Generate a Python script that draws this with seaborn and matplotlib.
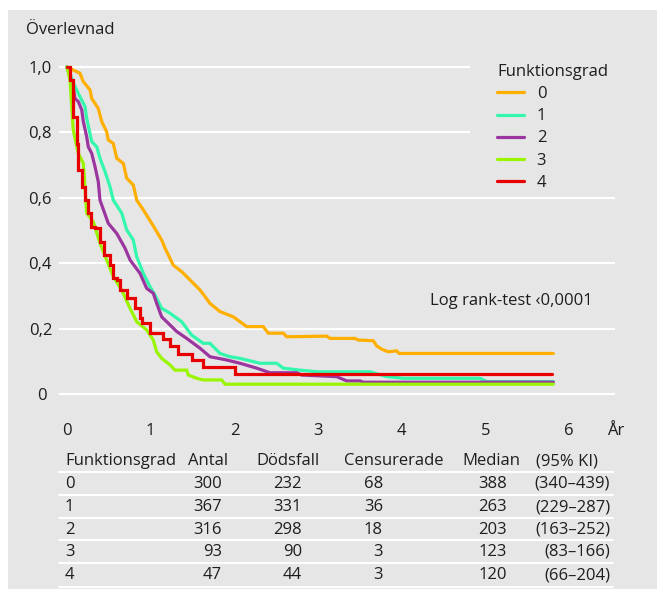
import numpy as np
import pandas as pd
import matplotlib
matplotlib.use("Agg")
import matplotlib.pyplot as plt
import seaborn as sns
from matplotlib.patches import Rectangle

# ---------------- data ----------------
grades = ["0", "1", "2", "3", "4"]
colors = ["#ffaf00", "#33f7ac", "#9b359f", "#99f500", "#e80000"]

t0 = [0, 0.155, 0.195, 0.275, 0.295, 0.374, 0.415, 0.474, 0.493, 0.553, 0.594, 0.673, 0.713, 0.792,
      0.833, 0.912, 1.012, 1.131, 1.171, 1.270, 1.370, 1.449, 1.589, 1.649, 1.708, 1.828, 1.987,
      2.147, 2.345, 2.405, 2.584, 2.625, 3.103, 3.142, 3.441, 3.480, 3.659, 3.700, 3.760, 3.839,
      3.939, 3.967, 5.810]
s0 = [1.0, 0.981, 0.955, 0.930, 0.904, 0.873, 0.833, 0.802, 0.777, 0.766, 0.721, 0.705, 0.660, 0.639,
      0.593, 0.563, 0.522, 0.471, 0.446, 0.394, 0.374, 0.354, 0.318, 0.298, 0.277, 0.252, 0.236,
      0.206, 0.206, 0.186, 0.186, 0.175, 0.177, 0.170, 0.170, 0.165, 0.163, 0.147, 0.137, 0.129,
      0.132, 0.124, 0.124]

t1 = [0, 0.016, 0.056, 0.096, 0.155, 0.215, 0.235, 0.295, 0.355, 0.394, 0.454, 0.514, 0.553, 0.654,
      0.713, 0.792, 0.833, 0.912, 0.992, 1.051, 1.131, 1.231, 1.370, 1.490, 1.628, 1.708, 1.828,
      1.947, 2.067, 2.306, 2.505, 2.584, 2.784, 2.983, 3.620, 3.820, 4.018, 4.934, 5.014, 5.810]
s1 = [1.0, 0.991, 0.965, 0.940, 0.909, 0.879, 0.843, 0.772, 0.756, 0.721, 0.680, 0.634, 0.593, 0.553,
      0.502, 0.471, 0.420, 0.369, 0.328, 0.303, 0.262, 0.247, 0.221, 0.180, 0.155, 0.155, 0.124,
      0.114, 0.109, 0.094, 0.094, 0.079, 0.073, 0.068, 0.068, 0.053, 0.048, 0.048, 0.038, 0.038]

t2 = [0, 0.036, 0.075, 0.096, 0.135, 0.176, 0.195, 0.235, 0.254, 0.295, 0.335, 0.374, 0.394, 0.493,
      0.594, 0.693, 0.753, 0.872, 0.952, 1.031, 1.072, 1.131, 1.231, 1.311, 1.430, 1.589, 1.708,
      1.908, 2.067, 2.266, 2.425, 2.744, 2.804, 3.222, 3.342, 3.501, 3.540, 5.810]
s2 = [1.0, 0.970, 0.935, 0.904, 0.894, 0.869, 0.833, 0.787, 0.756, 0.736, 0.695, 0.649, 0.593, 0.522,
      0.491, 0.446, 0.410, 0.369, 0.323, 0.308, 0.277, 0.236, 0.211, 0.191, 0.170, 0.140, 0.114,
      0.104, 0.094, 0.079, 0.065, 0.065, 0.058, 0.053, 0.040, 0.040, 0.036, 0.036]

t3 = [0, 0.036, 0.075, 0.135, 0.195, 0.215, 0.235, 0.314, 0.394, 0.474, 0.553, 0.654, 0.753, 0.833,
      0.952, 1.031, 1.072, 1.131, 1.231, 1.290, 1.430, 1.449, 1.550, 1.628, 1.848, 1.888, 5.810]
s3 = [1.0, 0.960, 0.807, 0.736, 0.705, 0.634, 0.553, 0.527, 0.461, 0.410, 0.359, 0.318, 0.262, 0.221,
      0.196, 0.165, 0.129, 0.109, 0.089, 0.073, 0.073, 0.058, 0.048, 0.043, 0.043, 0.030, 0.030]

t4 = [0, 0.036, 0.075, 0.116, 0.135, 0.176, 0.215, 0.254, 0.287, 0.335, 0.394, 0.446, 0.514, 0.553,
      0.594, 0.633, 0.713, 0.812, 0.872, 0.892, 0.992, 1.151, 1.231, 1.330, 1.490, 1.628, 2.007, 5.790]
s4 = [1.0, 0.960, 0.848, 0.766, 0.685, 0.634, 0.593, 0.553, 0.512, 0.507, 0.466, 0.425, 0.394, 0.354,
      0.349, 0.318, 0.293, 0.262, 0.232, 0.216, 0.187, 0.167, 0.147, 0.122, 0.104, 0.083, 0.061, 0.061]

curves_t = [t0, t1, t2, t3, t4]
curves_s = [s0, s1, s2, s3, s4]
step_style = [False, False, False, False, True]

y_ticks = [0, 0.2, 0.4, 0.6, 0.8, 1.0]
y_ticklabels = ["0 ", "0,2", "0,4", "0,6", "0,8", "1,0"]
x_ticks = [0, 1, 2, 3, 4, 5, 6]
x_ticklabels = ["0", "1", "2", "3", "4", "5", "6"]

# table
tab_header = ["Funktionsgrad", "Antal", "Dödsfall", "Censurerade", "Median", "(95% KI)"]
tab_grade = ["0", "1", "2", "3", "4"]
tab_antal = [300, 367, 316, 93, 47]
tab_dod = [232, 331, 298, 90, 44]
tab_cens = [68, 36, 18, 3, 3]
tab_median = [388, 263, 203, 123, 120]
tab_ci = ["(340–439)", "(229–287)", "(163–252)", "(83–166)", "(66–204)"]

# ---------------- style ----------------
sns.set_style("white")
plt.rcParams["font.family"] = ["Open Sans", "DejaVu Sans"]
FS = 12
plt.rcParams["font.size"] = FS
TXT = "#1e1e1e"
BG = "#e6e6e6"

W, H = 657, 591
fig = plt.figure(figsize=(W / 100, H / 100), dpi=100)
fig.patch.set_facecolor("white")

def fx(px):
    return px / W

def fy(py):
    return 1 - py / H

fig.patches.append(Rectangle((fx(8), fy(589)), fx(657) - fx(8), fy(10) - fy(589),
                             transform=fig.transFigure, facecolor=BG, edgecolor="none", zorder=-10))

ax_l, ax_r, ax_t, ax_b = 59, 615, 60, 405
ax = fig.add_axes([fx(ax_l), fy(ax_b), fx(ax_r) - fx(ax_l), fy(ax_t) - fy(ax_b)])
ax.set_facecolor("none")
x_per_px = 1 / 83.7
y_per_px = 1 / 327.0
ax.set_xlim((ax_l - 67) * x_per_px, (ax_r - 67) * x_per_px)
ax.set_ylim((394 - ax_b) * y_per_px, (394 - ax_t) * y_per_px)
for sp in ax.spines.values():
    sp.set_visible(False)

# grid lines (top two shortened for legend)
short_x = (470 - 67) * x_per_px
full_x = (ax_r - 67) * x_per_px
x0 = (ax_l - 67) * x_per_px
for yv in y_ticks:
    xe = short_x if yv >= 0.8 else full_x
    ax.plot([x0, xe], [yv, yv], color="white", lw=1.6, zorder=0, solid_capstyle="butt")

for g, tt, ss, col, st in zip(grades, curves_t, curves_s, colors, step_style):
    df = pd.DataFrame({"t": tt, "s": ss})
    kw = dict(drawstyle="steps-post") if st else {}
    sns.lineplot(data=df, x="t", y="s", ax=ax, color=col, lw=2.3, label=g,
                 estimator=None, sort=False, legend=False, solid_joinstyle="miter", **kw)

ax.set_xlabel("")
ax.set_ylabel("")
ax.set_xticks(x_ticks)
ax.set_xticklabels(x_ticklabels)
ax.set_yticks(y_ticks)
ax.set_yticklabels(y_ticklabels)
ax.tick_params(axis="x", direction="out", length=5.8, width=0.9, color="#333333",
               pad=7, labelsize=FS, labelcolor=TXT)
ax.tick_params(axis="y", length=0, pad=5, labelsize=FS, labelcolor=TXT)

handles = ax.get_lines()[len(y_ticks):]
leg = ax.legend(handles=handles, labels=grades, title="Funktionsgrad", loc="upper left",
                bbox_to_anchor=(fx(497), fy(64)), bbox_transform=fig.transFigure,
                frameon=False, borderpad=0, borderaxespad=0, handlelength=1.6,
                handletextpad=0.78, labelspacing=0.37, fontsize=FS, title_fontsize=FS,
                alignment="left")
for txt in leg.get_texts():
    txt.set_color(TXT)
leg.get_title().set_color(TXT)

fig.text(fx(26), fy(30), "Överlevnad", ha="left", va="center", color=TXT, fontsize=FS)
fig.text(fx(607), fy(431), "År", ha="left", va="center", color=TXT, fontsize=FS)
fig.text(fx(430), fy(301), "Log rank-test ‹0,0001", ha="left", va="center", color=TXT, fontsize=FS)

# table
row_y = [461, 484, 507, 530, 552, 575]
line_y = [472, 494.5, 517.5, 540, 563, 586.5]
for ly in line_y:
    fig.add_artist(plt.Line2D([fx(59), fx(613)], [fy(ly), fy(ly)], color="white", lw=1.5,
                              transform=fig.transFigure))

hdr_x = [(65, "left"), (188, "left"), (256, "left"), (344, "left"), (462, "left"), (598, "right")]
for (x, ha), h in zip(hdr_x, tab_header):
    fig.text(fx(x), fy(row_y[0]), h, ha=ha, va="center", color=TXT, fontsize=FS)

for i in range(len(tab_grade)):
    yy = fy(row_y[i + 1])
    fig.text(fx(65), yy, tab_grade[i], ha="left", va="center", color=TXT, fontsize=FS)
    fig.text(fx(222), yy, str(tab_antal[i]), ha="right", va="center", color=TXT, fontsize=FS)
    fig.text(fx(302), yy, str(tab_dod[i]), ha="right", va="center", color=TXT, fontsize=FS)
    fig.text(fx(383), yy, str(tab_cens[i]), ha="right", va="center", color=TXT, fontsize=FS)
    fig.text(fx(507), yy, str(tab_median[i]), ha="right", va="center", color=TXT, fontsize=FS)
    fig.text(fx(610), yy, tab_ci[i], ha="right", va="center", color=TXT, fontsize=FS)

fig.savefig("out.png", dpi=100)
